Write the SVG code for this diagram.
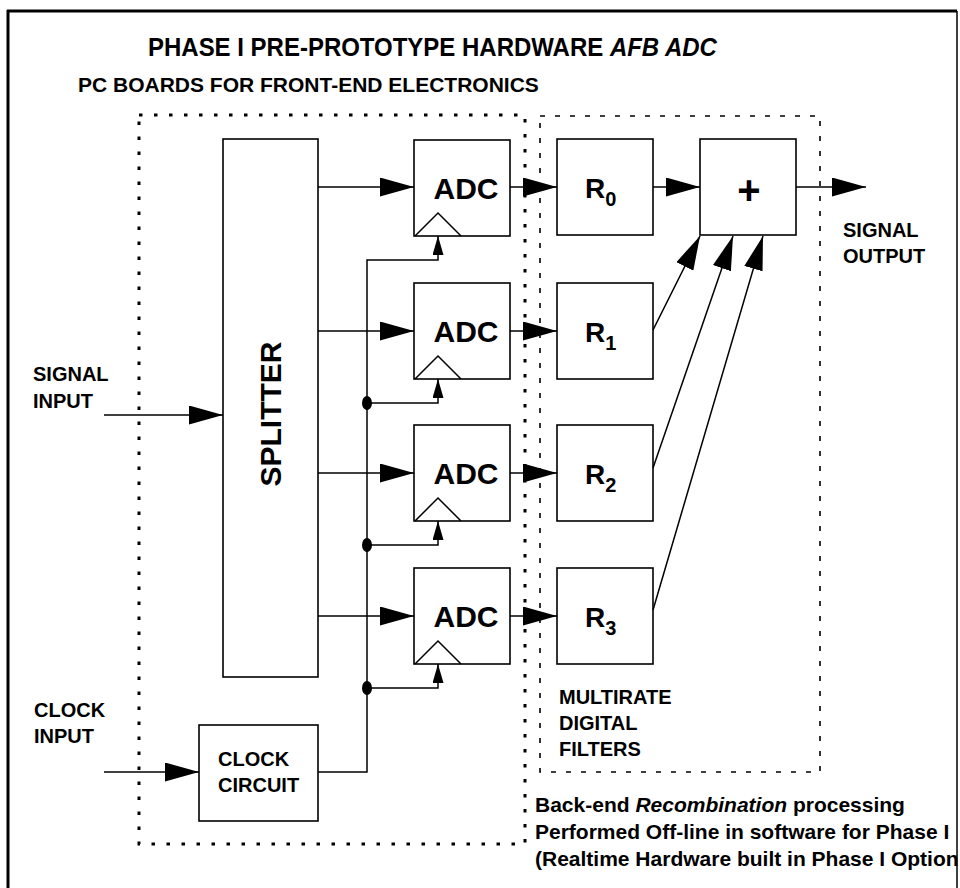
<svg xmlns="http://www.w3.org/2000/svg" width="960" height="888" viewBox="0 0 960 888">
<style>
.box{fill:#fff;stroke:#000;stroke-width:1.6}
.t{font-family:"Liberation Sans",Arial,sans-serif;font-weight:bold;fill:#000}
.lbl{font-size:20px}
.wire{stroke:#000;stroke-width:1.5;fill:none}
.big{marker-end:url(#ah)}
.small{marker-end:url(#as)}
.dot{fill:#000}
</style>
<defs>
<marker id="ah" markerUnits="userSpaceOnUse" viewBox="0 0 34 19" markerWidth="34" markerHeight="19" refX="34" refY="9.5" orient="auto"><path d="M0,0 L34,9.5 L0,19 Z" fill="#000"/></marker>
<marker id="as" markerUnits="userSpaceOnUse" viewBox="0 0 19 11" markerWidth="19" markerHeight="11" refX="19" refY="5.5" orient="auto"><path d="M0,0 L19,5.5 L0,11 Z" fill="#000"/></marker>
</defs>
<rect width="960" height="888" fill="#fff"/>
<g id="frame">
<line x1="8" y1="10" x2="8" y2="888" stroke="#000" stroke-width="3"/>
<line x1="7" y1="11" x2="957" y2="11" stroke="#000" stroke-width="3"/>
<line x1="957" y1="11" x2="957" y2="888" stroke="#000" stroke-width="1.5"/>
</g>
<text class="t" font-size="26" transform="translate(148,56) scale(0.923,1)">PHASE I PRE-PROTOTYPE HARDWARE <tspan font-style="italic">AFB ADC</tspan></text>
<text class="t" x="78" y="92" font-size="21">PC BOARDS FOR FRONT-END ELECTRONICS</text>
<g id="pcboards-region">
<rect x="139" y="115" width="386" height="729" fill="none" stroke="#000" stroke-width="3" stroke-dasharray="3.5 11.5"/>
</g>
<g id="filters-region">
<rect x="540" y="116" width="280" height="656" fill="none" stroke="#000" stroke-width="1.6" stroke-dasharray="5 10"/>
<text class="t lbl" x="559" y="704">MULTIRATE</text>
<text class="t lbl" x="559" y="730">DIGITAL</text>
<text class="t lbl" x="559" y="756">FILTERS</text>
</g>
<g id="splitter">
<rect class="box" x="223" y="139" width="95" height="538"/>
<text class="t" font-size="30" text-anchor="middle" transform="translate(281,414) rotate(-90)">SPLITTER</text>
</g>
<g id="clock-circuit">
<rect class="box" x="199" y="725" width="119" height="96"/>
<text class="t lbl" x="218" y="766">CLOCK</text>
<text class="t lbl" x="218" y="792">CIRCUIT</text>
</g>
<g id="adc0"><rect class="box" x="414" y="140" width="96" height="96"/><path class="wire" d="M415,236 L438,213 L461,236"/><text class="t" x="466" y="199" font-size="30" text-anchor="middle">ADC</text></g>
<g id="adc1"><rect class="box" x="414" y="283" width="96" height="96"/><path class="wire" d="M415,379 L438,356 L461,379"/><text class="t" x="466" y="342" font-size="30" text-anchor="middle">ADC</text></g>
<g id="adc2"><rect class="box" x="414" y="425" width="96" height="96"/><path class="wire" d="M415,521 L438,498 L461,521"/><text class="t" x="466" y="484" font-size="30" text-anchor="middle">ADC</text></g>
<g id="adc3"><rect class="box" x="414" y="568" width="96" height="96"/><path class="wire" d="M415,664 L438,641 L461,664"/><text class="t" x="466" y="627" font-size="30" text-anchor="middle">ADC</text></g>
<g id="r0"><rect class="box" x="557" y="139" width="96" height="96"/><text class="t" x="585" y="198" font-size="28">R<tspan font-size="20" dy="8">0</tspan></text></g>
<g id="r1"><rect class="box" x="557" y="283" width="96" height="96"/><text class="t" x="585" y="342" font-size="28">R<tspan font-size="20" dy="8">1</tspan></text></g>
<g id="r2"><rect class="box" x="557" y="425" width="96" height="96"/><text class="t" x="585" y="484" font-size="28">R<tspan font-size="20" dy="8">2</tspan></text></g>
<g id="r3"><rect class="box" x="557" y="568" width="96" height="96"/><text class="t" x="585" y="627" font-size="28">R<tspan font-size="20" dy="8">3</tspan></text></g>
<g id="sum"><rect class="box" x="700" y="139" width="96" height="96"/><text class="t" x="749" y="204" font-size="40" text-anchor="middle">+</text></g>
<g id="connectors">
<line class="wire big" x1="104" y1="415" x2="223" y2="415"/>
<line class="wire big" x1="104" y1="772" x2="199" y2="772"/>
<line class="wire big" x1="318" y1="187" x2="414" y2="187"/>
<line class="wire big" x1="318" y1="331" x2="414" y2="331"/>
<line class="wire big" x1="318" y1="473" x2="414" y2="473"/>
<line class="wire big" x1="318" y1="616" x2="414" y2="616"/>
<line class="wire big" x1="510" y1="187" x2="557" y2="187"/>
<line class="wire big" x1="510" y1="331" x2="557" y2="331"/>
<line class="wire big" x1="510" y1="473" x2="557" y2="473"/>
<line class="wire big" x1="510" y1="616" x2="557" y2="616"/>
<line class="wire big" x1="653" y1="187" x2="700" y2="187"/>
<line class="wire big" x1="653" y1="330" x2="700" y2="236"/>
<line class="wire big" x1="653" y1="468" x2="733" y2="236"/>
<line class="wire big" x1="653" y1="610" x2="763" y2="236"/>
<line class="wire big" x1="796" y1="187" x2="866" y2="187"/>
<polyline class="wire small" points="318,772 367,772 367,260 438,260 438,236"/>
<polyline class="wire small" points="367,403 438,403 438,379"/>
<polyline class="wire small" points="367,545 438,545 438,521"/>
<polyline class="wire small" points="367,688 438,688 438,664"/>
<ellipse class="dot" cx="367" cy="403" rx="5" ry="7"/>
<ellipse class="dot" cx="367" cy="545" rx="5" ry="7"/>
<ellipse class="dot" cx="367" cy="688" rx="5" ry="7"/>
</g>
<g id="labels">
<text class="t lbl" x="33" y="381">SIGNAL</text>
<text class="t lbl" x="33" y="408">INPUT</text>
<text class="t lbl" x="34" y="717">CLOCK</text>
<text class="t lbl" x="34" y="743">INPUT</text>
<text class="t lbl" x="843" y="237">SIGNAL</text>
<text class="t lbl" x="843" y="263">OUTPUT</text>
<text class="t" x="535" y="812" font-size="21">Back-end <tspan font-style="italic">Recombination</tspan> processing</text>
<text class="t" x="535" y="839" font-size="21">Performed Off-line in software for Phase I</text>
<text class="t" x="535" y="866" font-size="21">(Realtime Hardware built in Phase I Option</text>
</g>
</svg>
